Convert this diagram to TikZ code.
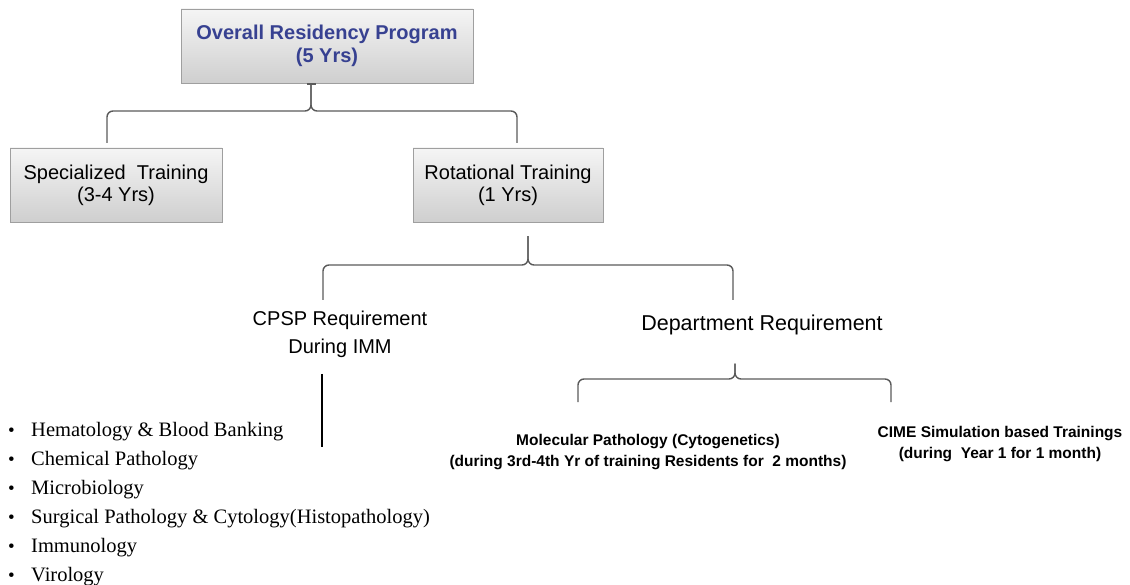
\documentclass[tikz,border=0pt]{standalone}
\usepackage{fontspec}
\setmainfont{Liberation Serif}
\setsansfont{Liberation Sans}
\usetikzlibrary{arrows.meta}
\definecolor{titleblue}{RGB}{55,65,145}
\definecolor{linegrey}{RGB}{90,90,90}
\newcommand{\itemdot}{\makebox[25pt][l]{\hspace{2pt}\fontsize{19}{19}\selectfont\textbullet}}

\begin{document}
\begin{tikzpicture}[x=1pt, y=-1pt,
    greybox/.style={draw=gray!75, top color=gray!8, bottom color=gray!38, minimum height=74pt,
      align=center, inner sep=0pt, font=\sffamily\fontsize{20}{22}\selectfont},
    heading/.style={align=center, font=\sffamily\fontsize{20}{28}\selectfont},
    smallbold/.style={align=center, font=\sffamily\bfseries\fontsize{15.5}{21}\selectfont},
    conn/.style={draw=linegrey, line width=1.4pt, rounded corners=6pt}]

   \useasboundingbox (0,0) rectangle (1130,585);

   \node[greybox, minimum width=292pt, text=titleblue,
     font=\sffamily\bfseries\fontsize{20}{23}\selectfont] (overall) at (327,46)
     {Overall Residency Program\\(5 Yrs)};
   \node[greybox, minimum width=212pt] (special) at (116,185) {Specialized~ Training\\(3-4 Yrs)};
   \node[greybox, minimum width=190pt] (rotation) at (508,185) {Rotational Training\\(1 Yrs)};

   \node[heading] (cpsp) at (340,334) {CPSP Requirement\\During IMM};
   \node[heading, font=\sffamily\fontsize{21.5}{28}\selectfont] (dept) at (762,325) {Department Requirement};

   \node[smallbold] (molecular) at (648,452)
     {Molecular Pathology (Cytogenetics)\\(during 3rd-4th Yr of training Residents for~ 2 months)};
   \node[smallbold] (cime) at (1000,444)
     {CIME Simulation based Trainings\\(during~ Year 1 for 1 month)};

   \node[anchor=north west, align=left, inner sep=0pt,
     font=\fontsize{20.5}{29}\selectfont] (subjects) at (6,422)
     {\itemdot Hematology \& Blood Banking\\
      \itemdot Chemical Pathology\\
      \itemdot Microbiology\\
      \itemdot Surgical Pathology \& Cytology(Histopathology)\\
      \itemdot Immunology\\
      \itemdot Virology};

   \coordinate (b1) at (311,111);
   \coordinate (l1) at (107,143);
   \coordinate (r1) at (517,143);
   \draw[conn, {Bar[width=9pt]}-] (overall.south -| b1) -- (b1) -| (l1);
   \draw[conn] (overall.south -| b1) -- (b1) -| (r1);

   \coordinate (b2) at (528,265);
   \coordinate (l2) at (323,300);
   \coordinate (r2) at (733,300);
   \draw[conn, shorten <=14pt] (rotation.south -| b2) -- (b2) -| (l2);
   \draw[conn, shorten <=14pt] (rotation.south -| b2) -- (b2) -| (r2);

   \coordinate (b3) at (735,379);
   \coordinate (l3) at (578,402);
   \coordinate (r3) at (891,402);
   \draw[conn, shorten <=25pt] (dept.south -| b3) -- (b3) -| (l3);
   \draw[conn, shorten <=25pt] (dept.south -| b3) -- (b3) -| (r3);

   \coordinate (cpspend) at (322,447);
   \draw[black, line width=1.6pt, shorten <=13pt] (cpsp.south -| cpspend) -- (cpspend);

\end{tikzpicture}
\end{document}
